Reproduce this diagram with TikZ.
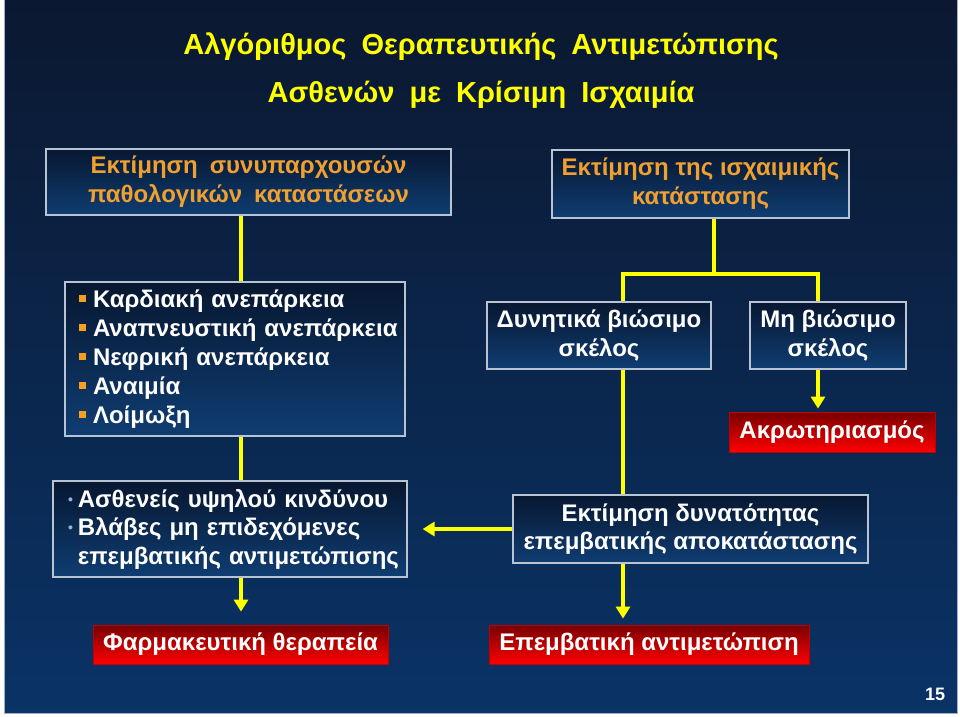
\documentclass[tikz,border=0pt]{standalone}
\usepackage{fontspec}
\setmainfont{Liberation Sans}
\usetikzlibrary{arrows.meta}
\definecolor{bgtop}{HTML}{0B1830}
\definecolor{bgbot}{HTML}{0A3366}
\definecolor{boxtop}{HTML}{071730}
\definecolor{boxbot}{HTML}{0F3D72}
\definecolor{boxline}{HTML}{B8C4D4}
\definecolor{redtop}{HTML}{780000}
\definecolor{redbot}{HTML}{FF0000}
\definecolor{redline}{HTML}{C00000}
\definecolor{orangetxt}{HTML}{F0A030}
\definecolor{bulsq}{HTML}{F5A020}
\definecolor{buldot}{HTML}{8FB4E0}
\definecolor{yel}{HTML}{FFFF00}
\definecolor{framec}{HTML}{9FB0C8}
\newcommand\sqb{\textcolor{bulsq}{\rule[5pt]{7pt}{7pt}}\hspace{7pt}}
\newcommand\dotb{\textcolor{buldot}{\fontsize{14}{14}\selectfont\raisebox{3pt}{•}}\hspace{5pt}}
\begin{document}
\begin{tikzpicture}[x=1pt,y=1pt,
 navy/.style={draw=boxline, line width=1.2pt, top color=boxtop, bottom color=boxbot, inner sep=0pt, align=center},
 redbox/.style={draw=redline, line width=0.8pt, top color=redtop, bottom color=redbot, inner sep=0pt, text=white, font=\bfseries\fontsize{24}{28}\selectfont},
 wtxt/.style={text=white, font=\bfseries\fontsize{24}{29}\selectfont},
 otxt/.style={text=orangetxt, font=\bfseries\fontsize{24}{29}\selectfont},
 ttl/.style={text=yel, font=\bfseries\fontsize{29}{34}\selectfont, inner sep=0pt},
 conn/.style={draw=yel, line width=4pt},
 arr/.style={conn, -{Triangle[width=14pt,length=12pt]}},
]
\useasboundingbox (0,0) rectangle (960,-716);
\fill[white] (0,0) rectangle (960,-716);
\shade[top color=bgtop, bottom color=bgbot] (4,0) rectangle (957,-713);
\draw[framec, line width=1pt] (4,0) -- (4,-713) -- (957,-713) -- (957,0);

% titles
\node[ttl] (t1) at (481,-47) {Αλγόριθμος\hspace{15pt}Θεραπευτικής\hspace{15pt}Αντιμετώπισης};
\node[ttl] (t2) at (481,-95) {Ασθενών\hspace{15pt}με\hspace{15pt}Κρίσιμη\hspace{15pt}Ισχαιμία};

% boxes
\node[navy, otxt, minimum width=405pt, minimum height=66pt] (A) at (248.5,-182) {Εκτίμηση\hspace{12pt}συνυπαρχουσών\\παθολογικών\hspace{12pt}καταστάσεων};
\node[navy, otxt, minimum width=297pt, minimum height=68pt] (B) at (700.5,-184) {Εκτίμηση της ισχαιμικής\\κατάστασης};
\node[navy, wtxt, align=left, text width=312pt, minimum width=340pt, minimum height=154pt] (C) at (235,-359)
 {\mbox{\sqb Καρδιακή ανεπάρκεια}\\\mbox{\sqb Αναπνευστική ανεπάρκεια}\\\mbox{\sqb Νεφρική ανεπάρκεια}\\\mbox{\sqb Αναιμία}\\\mbox{\sqb Λοίμωξη}};
\node[navy, wtxt, minimum width=224pt, minimum height=67pt] (D) at (599,-335.5) {Δυνητικά βιώσιμο\\σκέλος};
\node[navy, wtxt, minimum width=156pt, minimum height=67pt] (F) at (828,-335.5) {Μη βιώσιμο\\σκέλος};
\node[redbox, minimum width=206pt, minimum height=40pt] (G) at (832,-432) {Ακρωτηριασμός};
\node[navy, wtxt, font=\bfseries\fontsize{24}{28.5}\selectfont, align=left, text width=324pt, minimum width=354pt, minimum height=96pt] (E) at (230,-529)
 {\mbox{\dotb Ασθενείς υψηλού κινδύνου}\\\mbox{\dotb Βλάβες μη επιδεχόμενες}\\\mbox{\phantom{\dotb}επεμβατικής αντιμετώπισης}};
\node[navy, wtxt, font=\bfseries\fontsize{24}{28}\selectfont, minimum width=355pt, minimum height=68pt] (H) at (690.5,-529) {Εκτίμηση δυνατότητας\\επεμβατικής αποκατάστασης};
\node[redbox, minimum width=295pt, minimum height=39pt] (I) at (240.5,-644.5) {Φαρμακευτική θεραπεία};
\node[redbox, minimum width=320pt, minimum height=39pt] (J) at (649,-644.5) {Επεμβατική αντιμετώπιση};
\node[text=white, font=\bfseries\fontsize{18}{20}\selectfont, inner sep=0pt] (pg) at (935,-694) {15};

% connectors
\coordinate (la) at (241,0);
\coordinate (jb) at (714,-274);
\coordinate (jd) at (623,-274);
\coordinate (jf) at (818,-274);
\draw[conn] (A.south -| la) -- (C.north -| la);
\draw[conn] (C.south -| la) -- (E.north -| la);
\draw[conn] (B.south -| jb) -- (jb);
\draw[conn] (D.north -| jd) -- (jd) -- (jf) -- (F.north -| jf);
\draw[arr, shorten >=3pt] (F.south -| jf) -- (G.north -| jf);
\draw[conn] (D.south -| jd) -- (H.north -| jd);
\draw[arr, shorten >=15pt] (H.west) -- (E.east);
\draw[arr, shorten >=13pt] (E.south -| la) -- (I.north -| la);
\draw[arr, shorten >=6pt] (H.south -| jd) -- (J.north -| jd);
\end{tikzpicture}
\end{document}
